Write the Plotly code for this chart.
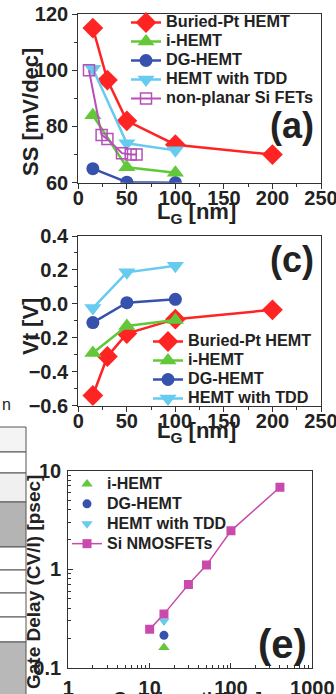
import plotly.graph_objects as go

W, H = 336, 694
FONT = "Liberation Sans, Arial, sans-serif"

# ---------- data: (a) subthreshold swing ----------
ss_bpt_x = [15, 30, 50, 100, 200]
ss_bpt_y = [115, 96.5, 82, 73.5, 70]
ss_ih_x = [15, 50, 100]
ss_ih_y = [84, 65.5, 63.5]
ss_dg_x = [15, 50, 100]
ss_dg_y = [65, 60.2, 60]
ss_tdd_x = [15, 50, 100]
ss_tdd_y = [100.5, 74, 71.5]
ss_si_x = [11, 24, 30, 45, 54, 60]
ss_si_y = [100, 77, 75.5, 70.5, 70, 70]

# ---------- data: (c) threshold voltage ----------
vt_bpt_x = [15, 30, 50, 100, 200]
vt_bpt_y = [-0.54, -0.31, -0.175, -0.09, -0.035]
vt_ih_x = [15, 50, 100]
vt_ih_y = [-0.29, -0.13, -0.095]
vt_dg_x = [15, 50, 100]
vt_dg_y = [-0.11, 0.007, 0.027]
vt_tdd_x = [15, 50, 100]
vt_tdd_y = [-0.025, 0.186, 0.225]

# ---------- data: (e) gate delay ----------
gd_ih_x = [15]
gd_ih_y = [0.16]
gd_dg_x = [15]
gd_dg_y = [0.213]
gd_tdd_x = [15]
gd_tdd_y = [0.298]
gd_si_x = [10, 15, 30, 50, 100, 400]
gd_si_y = [0.245, 0.35, 0.70, 1.10, 2.45, 6.8]

RED = "#ff2424"
GREEN = "#62c83a"
BLUE = "#3652ad"
CYAN = "#66cbee"
MAG = "#b64fb8"
PINK = "#c94aac"

def px_x(p):
    return p / W

def px_y(p):
    return 1 - p / H

def lname(s, size=16.3):
    return '<span style="font-size:%spx">%s</span>' % (size, s)

fig = go.Figure()

def add(x, y, name, color, symbol, size, xa, ya, legend, mode="lines+markers", lw=2.5, mline=0):
    fig.add_trace(go.Scatter(
        x=x, y=y, name=name, mode=mode, xaxis=xa, yaxis=ya, legend=legend,
        line=dict(color=color, width=lw),
        marker=dict(symbol=symbol, size=size, color=color,
                    line=dict(color=color, width=mline)),
    ))

# (a)
add(ss_bpt_x, ss_bpt_y, lname("Buried-Pt HEMT"), RED, "diamond", 16, "x", "y", "legend")
add(ss_ih_x, ss_ih_y, lname("i-HEMT"), GREEN, "triangle-up", 15, "x", "y", "legend")
add(ss_dg_x, ss_dg_y, lname("DG-HEMT"), BLUE, "circle", 13, "x", "y", "legend")
add(ss_tdd_x, ss_tdd_y, lname("HEMT with TDD"), CYAN, "triangle-down", 15, "x", "y", "legend")
add(ss_si_x, ss_si_y, lname("non-planar Si FETs"), MAG, "square-open", 11, "x", "y", "legend", lw=2, mline=1.5)

# (c)
add(vt_bpt_x, vt_bpt_y, lname("Buried-Pt HEMT", 16.2), RED, "diamond", 16, "x3", "y3", "legend2")
add(vt_ih_x, vt_ih_y, lname("i-HEMT", 16.2), GREEN, "triangle-up", 15, "x3", "y3", "legend2")
add(vt_dg_x, vt_dg_y, lname("DG-HEMT", 16.2), BLUE, "circle", 13, "x3", "y3", "legend2")
add(vt_tdd_x, vt_tdd_y, lname("HEMT with TDD", 16.2), CYAN, "triangle-down", 15, "x3", "y3", "legend2")

# (e)
add(gd_ih_x, gd_ih_y, lname("i-HEMT", 16), GREEN, "triangle-up", 10, "x5", "y5", "legend3", mode="markers")
add(gd_dg_x, gd_dg_y, lname("DG-HEMT", 16), BLUE, "circle", 9, "x5", "y5", "legend3", mode="markers")
add(gd_tdd_x, gd_tdd_y, lname("HEMT with TDD", 16), CYAN, "triangle-down", 10, "x5", "y5", "legend3", mode="markers")
add(gd_si_x, gd_si_y, lname("Si NMOSFETs", 16), PINK, "square", 9, "x5", "y5", "legend3", lw=1.5)

XD = [px_x(78.3), px_x(321)]
XDE = [px_x(68.3), px_x(312.3)]
YA = [px_y(182.7), px_y(14)]
YC = [px_y(405.7), px_y(236)]
YE = [px_y(667.7), px_y(470.7)]

tickfont = dict(family=FONT, size=20, color="#222222", weight="bold")

def main_axis(domain, anchor, rng, dtick, minor_dtick, typ="linear", fmt=None, ticks="outside", standoff=0):
    d = dict(domain=domain, anchor=anchor, range=rng, type=typ, automargin=False,
             showline=True, linecolor="#333333", linewidth=1.3, mirror=True,
             ticks=ticks, ticklen=5, tickwidth=1.2, tickcolor="#333333",
             showgrid=False, zeroline=False, tickfont=tickfont, ticklabelstandoff=standoff,
             ticklabeloverflow="allow",
             minor=dict(ticks=ticks, ticklen=3, tickwidth=1, tickcolor="#333333",
                        dtick=minor_dtick, showgrid=False))
    if dtick is not None:
        d["dtick"] = dtick
    if fmt:
        d["tickformat"] = fmt
    return d

def mirror_axis(overlay, anchor, side, domain, rng, dtick, minor_dtick, typ="linear"):
    d = dict(overlaying=overlay, anchor=anchor, side=side, domain=domain, range=rng, type=typ,
             automargin=False,
             showline=False, ticks="inside", ticklen=5, tickwidth=1.2, tickcolor="#333333",
             showticklabels=False, showgrid=False, zeroline=False,
             minor=dict(ticks="inside", ticklen=3, tickwidth=1, tickcolor="#333333",
                        dtick=minor_dtick, showgrid=False))
    if dtick is not None:
        d["dtick"] = dtick
    return d

layout = dict(
    width=W, height=H, margin=dict(l=0, r=0, t=0, b=0, pad=0, autoexpand=False),
    paper_bgcolor="white", plot_bgcolor="white", showlegend=True,
    font=dict(family=FONT, color="#222222"),
    xaxis=main_axis(XD, "y", [0, 250], 50, 25, standoff=-8),
    yaxis=main_axis(YA, "x", [60, 120], 20, 10),
    xaxis2=mirror_axis("x", "y", "top", XD, [0, 250], 50, 25),
    yaxis2=mirror_axis("y", "x", "right", YA, [60, 120], 20, 10),
    xaxis3=main_axis(XD, "y3", [0, 250], 50, 25, standoff=-8),
    yaxis3=main_axis(YC, "x3", [-0.6, 0.4], 0.2, 0.1, fmt=".1f"),
    xaxis4=mirror_axis("x3", "y3", "top", XD, [0, 250], 50, 25),
    yaxis4=mirror_axis("y3", "x3", "right", YC, [-0.6, 0.4], 0.2, 0.1),
    xaxis5=main_axis(XDE, "y5", [0, 3], 1, "D1", typ="log", ticks="inside", standoff=2),
    yaxis5=main_axis(YE, "x5", [-1, 1], 1, "D1", typ="log", ticks="inside", standoff=2),
    xaxis6=mirror_axis("x5", "y5", "top", XDE, [0, 3], 1, "D1", typ="log"),
    yaxis6=mirror_axis("y5", "x5", "right", YE, [-1, 1], 1, "D1", typ="log"),
)

legfont = dict(family=FONT, size=12, color="#222222", weight="bold")
layout["legend"] = dict(x=px_x(126), y=px_y(8), xanchor="left", yanchor="top",
                        bgcolor="rgba(0,0,0,0)", font=legfont, tracegroupgap=0)
layout["legend2"] = dict(x=px_x(148), y=px_y(327), xanchor="left", yanchor="top",
                         bgcolor="rgba(0,0,0,0)", font=legfont, tracegroupgap=0)
layout["legend3"] = dict(x=px_x(67), y=px_y(469), xanchor="left", yanchor="top",
                         bgcolor="rgba(0,0,0,0)", font=dict(family=FONT, size=13, color="#222222", weight="bold"),
                         tracegroupgap=0)

titlefont = dict(family=FONT, size=22, color="#222222", weight="bold")
anns = [
    dict(text="SS [mV/dec]", x=px_x(31), y=px_y(112), textangle=-90, font=titlefont),
    dict(text="L<sub>G</sub> [nm]", x=px_x(196), y=px_y(197), yanchor="top", font=titlefont),
    dict(text="Vt [V]", x=px_x(31), y=px_y(327), textangle=-90, font=titlefont),
    dict(text="L<sub>G</sub> [nm]", x=px_x(196), y=px_y(416), yanchor="top", font=titlefont),
    dict(text="Gate Delay (CV/I) [psec]", x=px_x(33), y=px_y(582), textangle=-90,
         font=dict(family=FONT, size=19, color="#222222", weight="bold")),
    dict(text="Gate Length [nm]", x=px_x(187), y=px_y(687), yanchor="top",
         font=dict(family=FONT, size=18, color="#222222", weight="bold")),
    dict(text="(a)", x=px_x(292), y=px_y(126), font=dict(family=FONT, size=36, color="#222222", weight="bold")),
    dict(text="(c)", x=px_x(292), y=px_y(259), font=dict(family=FONT, size=36, color="#222222", weight="bold")),
    dict(text="(e)", x=px_x(282), y=px_y(644), font=dict(family=FONT, size=40, color="#222222", weight="bold")),
    dict(text="n", x=px_x(6), y=px_y(404), font=dict(family=FONT, size=16, color="#222222")),
]
for a in anns:
    a.setdefault("xref", "paper")
    a.setdefault("yref", "paper")
    a.setdefault("showarrow", False)
    a.setdefault("xanchor", "center")
    a.setdefault("yanchor", "middle")
layout["annotations"] = anns

# fragment of neighbouring table at left edge
rows = [427, 452, 473, 502, 547, 570, 593, 617, 642, 700]
fills = ["#f4f4f4", "#ffffff", "#f0f0f0", "#b4b4b4", "#ffffff", "#ffffff", "#ffffff", "#ffffff", "#b8b8b8"]
shapes = []
for i in range(len(rows) - 1):
    shapes.append(dict(type="rect", xref="paper", yref="paper",
                       x0=px_x(-5), x1=px_x(26), y0=px_y(rows[i + 1]), y1=px_y(rows[i]),
                       fillcolor=fills[i], line=dict(color="#555555", width=1)))
layout["shapes"] = shapes

fig.update_layout(**layout)
fig.write_html("out.html", config={"displayModeBar": False},
               post_script="document.body.style.margin='0';document.body.style.overflow='hidden';")
